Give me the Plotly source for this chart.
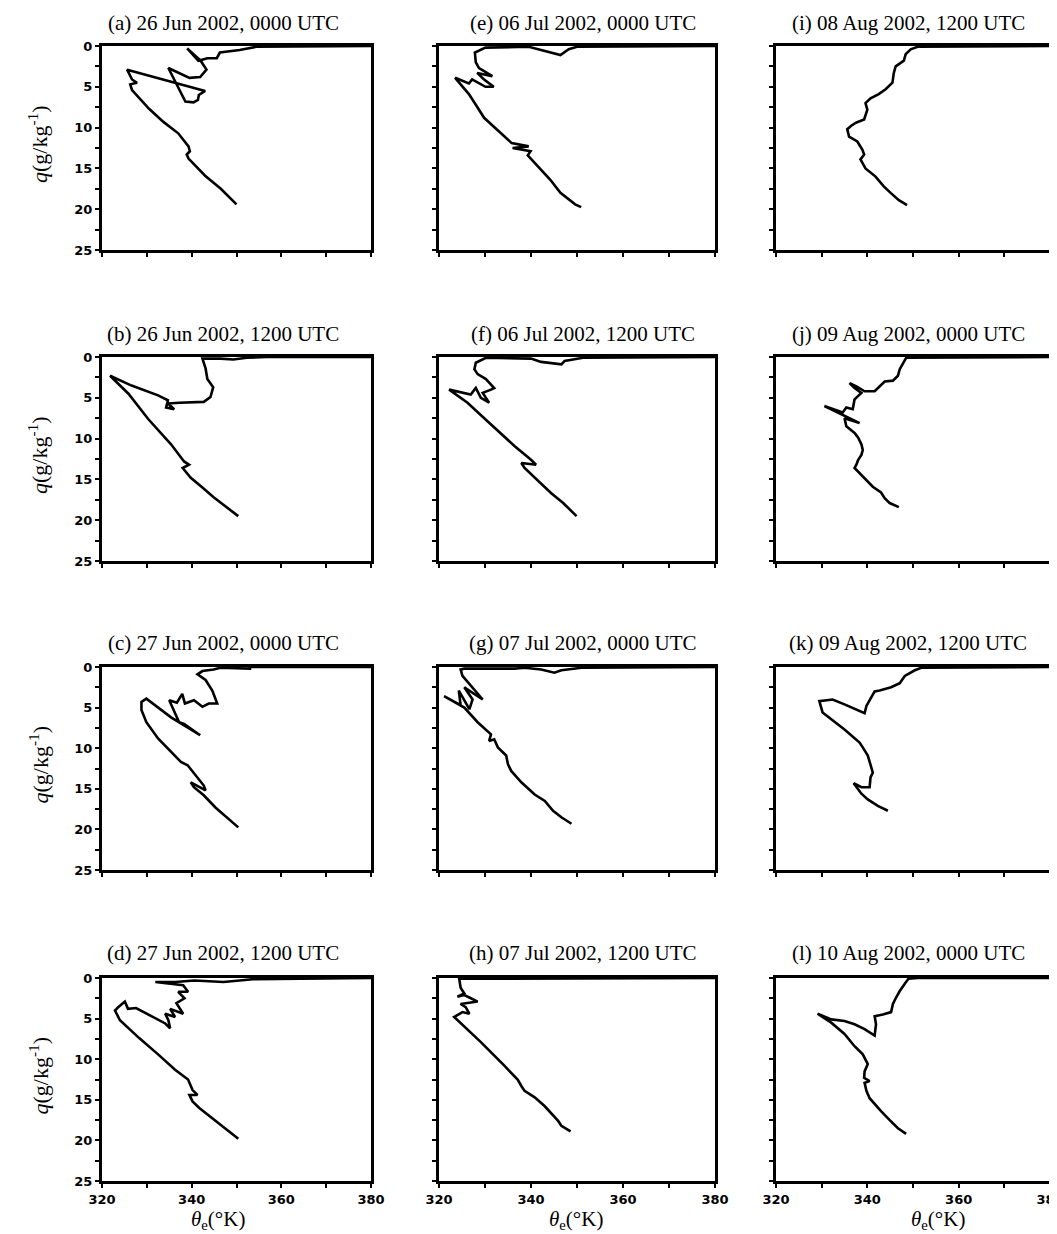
import plotly.graph_objects as go

# ---------------- data: (theta_e [K], q [g/kg]) ----------------
pts_a = [(350.0,19.4),(346.5,17.5),(343.0,15.9),(340.3,14.4),(339.3,13.8),(338.9,13.3),(339.6,12.9),(339.3,12.3),
         (337.0,10.7),(333.7,9.3),(330.5,7.7),(326.7,5.4),(326.3,4.7),(327.8,4.5),(326.7,4.1),(325.6,2.9),
         (343.0,5.5),(341.6,6.0),(341.4,6.6),(340.4,6.9),(338.6,6.8),(334.8,2.7),(337.4,3.4),(339.5,3.9),
         (341.9,3.8),(343.3,2.9),(342.0,1.8),(339.0,0.3),(341.5,1.8),(343.5,1.5),(345.6,1.5),(346.3,0.8),
         (350.7,0.5),(354.4,0.1),(380.0,0.0)]
pts_b = [(350.4,19.5),(347.5,18.3),(344.9,17.2),(342.4,16.0),(339.8,14.8),(338.0,13.6),(339.4,13.2),(338.3,12.8),
         (335.4,10.7),(330.3,7.6),(325.9,4.5),(321.8,2.3),(326.6,3.5),(332.5,4.7),(334.7,5.3),(334.3,6.2),
         (336.1,6.4),(334.7,5.7),(337.2,5.6),(342.7,5.5),(344.2,4.9),(344.8,3.7),(343.5,2.7),(343.1,1.4),
         (342.4,0.2),(346.4,0.2),(349.3,0.3),(352.3,0.1),(356.7,0.0),(380.0,0.0)]
pts_c = [(350.4,19.75),(347.9,18.5),(345.3,17.3),(342.7,15.8),(340.5,14.8),(339.8,14.2),(343.1,15.2),(342.7,14.6),
         (341.3,13.6),(339.1,12.1),(337.6,11.7),(334.7,10.1),(332.5,8.8),(329.9,6.8),(328.8,5.3),(328.8,4.3),
         (329.9,3.9),(335.4,6.2),(341.9,8.4),(338.3,7.0),(337.2,6.8),(335.0,4.1),(336.7,4.4),(337.9,3.3),
         (338.5,4.5),(340.5,4.1),(342.4,4.9),(343.8,4.5),(345.7,4.5),(344.6,2.9),(343.1,1.6),(341.3,0.9),
         (342.4,0.5),(344.9,0.3),(346.4,0.1),(353.0,0.2),(353.0,0.0),(380.0,0.0)]
pts_d = [(350.4,19.8),(346.4,18.1),(343.5,16.8),(341.7,16.0),(340.2,15.2),(339.5,14.4),(341.3,14.4),(340.2,13.8),
         (339.2,12.5),(336.3,11.3),(332.7,9.5),(328.3,7.4),(324.0,5.2),(322.9,4.0),(323.6,3.6),(325.1,2.9),
         (325.8,3.8),(327.6,3.7),(334.1,5.6),(335.2,6.2),(334.8,5.2),(334.1,4.4),(336.3,4.8),(335.2,3.8),
         (338.1,4.4),(336.6,3.1),(338.4,2.5),(337.0,1.7),(339.2,1.7),(338.1,0.9),(331.9,0.5),(336.3,0.5),
         (340.6,0.3),(347.1,0.5),(350.7,0.3),(353.6,0.15),(380.0,0.0)]
pts_e = [(350.9,19.75),(349.6,19.4),(346.4,18.0),(344.2,16.4),(339.3,13.4),(339.9,12.9),(336.0,12.5),(339.5,12.3),
         (335.8,11.9),(329.8,8.8),(328.0,7.2),(326.5,5.9),(323.5,3.9),(326.5,4.6),(327.2,4.1),(330.1,5.0),
         (331.9,5.0),(329.8,4.1),(328.3,3.3),(331.6,3.7),(328.7,2.7),(328.0,2.0),(327.8,0.8),(330.1,0.2),
         (339.5,0.1),(346.4,1.1),(348.2,0.4),(350.0,0.1),(380.0,0.0)]
pts_f = [(349.9,19.5),(348.1,18.5),(347.0,17.9),(344.4,16.7),(341.5,15.2),(338.6,13.6),(337.9,13.0),(341.1,13.2),
         (340.0,12.6),(336.4,10.9),(330.6,7.9),(326.2,5.6),(322.2,4.0),(326.9,4.6),(328.0,3.8),(329.1,5.0),
         (330.9,5.6),(329.5,4.4),(331.3,4.0),(332.0,3.8),(330.2,2.7),(328.4,2.1),(327.7,1.5),(328.0,0.7),
         (330.2,0.1),(340.0,0.2),(342.2,0.6),(346.6,0.9),(347.3,0.5),(351.3,0.1),(380.0,0.0)]
pts_g = [(348.8,19.3),(346.6,18.5),(344.8,17.7),(343.0,16.5),(340.8,15.7),(337.9,14.2),(335.7,12.8),(335.0,12.0),
         (334.6,10.9),(332.8,9.9),(332.0,8.9),(330.9,9.1),(331.3,8.3),(328.4,6.8),(325.5,5.0),(321.1,3.6),
         (324.7,4.7),(324.3,2.9),(326.6,5.2),(327.3,4.0),(325.5,2.5),(329.5,4.0),(326.6,2.1),(325.1,1.1),
         (324.7,0.3),(325.5,0.2),(336.4,0.2),(338.6,0.1),(342.2,0.3),(345.1,0.7),(346.6,0.4),(351.0,0.1),
         (380.0,0.0)]
pts_h = [(348.6,18.9),(346.6,18.2),(345.9,17.6),(345.1,17.1),(343.0,15.8),(340.8,14.7),(338.6,13.9),(337.9,13.3),
         (337.1,12.5),(334.2,10.8),(329.1,7.9),(323.3,4.8),(325.1,4.2),(326.6,4.4),(325.8,3.6),(324.7,3.2),
         (328.4,2.9),(326.6,2.4),(325.5,2.1),(324.0,2.3),(325.5,1.9),(324.7,1.2),(324.4,0.1),(380.0,0.0)]
pts_i = [(348.7,19.5),(346.9,18.9),(345.1,18.0),(343.6,17.2),(341.8,16.0),(339.6,15.0),(338.5,13.9),(339.3,13.3),
         (338.9,12.7),(337.8,11.7),(336.0,11.1),(335.6,10.2),(336.4,9.8),(337.5,9.4),(339.3,9.0),(340.0,7.8),
         (339.6,7.0),(340.7,6.4),(342.5,5.9),(344.0,5.3),(345.5,4.5),(345.8,3.3),(346.2,2.5),(348.0,1.8),
         (348.4,1.0),(349.5,0.4),(351.0,0.1),(380.0,0.0)]
pts_j = [(346.9,18.4),(344.9,17.9),(343.8,17.3),(343.0,16.6),(341.2,15.9),(339.0,14.6),(337.2,13.6),(337.6,13.2),
         (338.0,12.6),(338.7,12.0),(339.0,11.4),(338.7,10.7),(338.0,9.9),(337.2,9.3),(335.4,8.5),(335.0,7.5),
         (338.3,8.1),(330.6,6.0),(334.6,6.8),(335.4,6.2),(336.8,6.4),(337.2,5.2),(338.7,4.4),(337.2,3.8),
         (336.1,3.2),(337.6,3.6),(339.4,4.2),(341.6,4.2),(342.7,3.6),(343.8,3.0),(345.6,2.9),(346.7,2.3),
         (347.1,1.5),(347.8,0.7),(348.5,0.1),(380.0,0.0)]
pts_k = [(344.5,17.7),(342.3,17.1),(340.1,16.3),(338.7,15.6),(337.0,14.3),(338.7,14.8),(340.5,14.8),(340.7,13.6),
         (341.2,13.0),(340.7,12.0),(340.1,10.9),(339.0,9.9),(338.3,9.3),(335.0,7.7),(332.1,6.4),(330.2,5.6),
         (329.5,4.2),(332.4,4.0),(335.0,4.6),(339.4,5.7),(339.8,4.8),(340.8,3.7),(341.6,3.0),(342.7,2.9),
         (345.2,2.5),(347.1,2.0),(348.2,1.1),(350.4,0.4),(351.8,0.1),(380.0,0.0)]
pts_l = [(348.5,19.2),(346.7,18.5),(344.9,17.5),(343.0,16.4),(340.5,14.8),(339.8,13.9),(339.4,12.9),(340.5,12.7),
         (339.3,12.3),(339.4,11.5),(340.1,10.6),(339.0,9.4),(337.2,8.4),(335.0,6.9),(332.1,5.5),(329.1,4.4),
         (332.1,5.1),(335.0,5.3),(337.2,5.7),(339.4,6.3),(341.6,7.1),(341.9,5.7),(341.6,4.7),(343.4,4.5),
         (345.2,4.2),(345.6,3.2),(346.3,2.4),(347.1,1.6),(348.2,0.7),(349.0,0.1),(351.1,0.0),(380.0,0.0)]

panel_titles = ["(a) 26 Jun 2002, 0000 UTC", "(b) 26 Jun 2002, 1200 UTC", "(c) 27 Jun 2002, 0000 UTC",
                "(d) 27 Jun 2002, 1200 UTC", "(e) 06 Jul 2002, 0000 UTC", "(f) 06 Jul 2002, 1200 UTC",
                "(g) 07 Jul 2002, 0000 UTC", "(h) 07 Jul 2002, 1200 UTC", "(i) 08 Aug 2002, 1200 UTC",
                "(j) 09 Aug 2002, 0000 UTC", "(k) 09 Aug 2002, 1200 UTC", "(l) 10 Aug 2002, 0000 UTC"]
panel_data = [pts_a, pts_b, pts_c, pts_d, pts_e, pts_f, pts_g, pts_h, pts_i, pts_j, pts_k, pts_l]

x_tick_vals = [320, 340, 360, 380]
y_tick_vals = [0, 5, 10, 15, 20, 25]

# ---------------- layout geometry (page pixels) ----------------
W, H = 1057, 1234
col_px = [(94, 363), (431, 707), (768, 1042)]
row_px = [(38, 242), (349, 553), (659, 862), (970, 1173)]
title_cx = [215, 575, 900]
title_cy = [15, 326, 635, 945]
xtitle_cx = [210, 568, 930]


def px_x(v):
    return v / W


def px_y(v):
    return 1 - v / H


fig = go.Figure()
layout = dict(width=W, height=H, margin=dict(l=0, r=0, t=0, b=0, autoexpand=False),
              plot_bgcolor="white", paper_bgcolor="white", showlegend=False, template="none")
annotations = []

for idx, pts in enumerate(panel_data):
    col, row = idx // 4, idx % 4
    k = idx + 1
    xs = [p[0] for p in pts]
    ys = [p[1] for p in pts]
    xa = "x" if k == 1 else f"x{k}"
    ya = "y" if k == 1 else f"y{k}"
    fig.add_trace(go.Scatter(x=xs, y=ys, mode="lines", xaxis=xa, yaxis=ya,
                             line=dict(color="black", width=2.6), hoverinfo="skip"))
    x0, x1 = col_px[col]
    y0, y1 = row_px[row]
    tick_font = dict(family="DejaVu Sans", size=13, color="black", weight="bold")
    layout["xaxis" if k == 1 else f"xaxis{k}"] = dict(
        domain=[px_x(x0), px_x(x1)], range=[320, 380], anchor=ya, automargin=False,
        showline=True, linewidth=3, linecolor="black", mirror=True,
        ticks="outside", ticklen=4, tickwidth=2, tickcolor="black",
        tickvals=x_tick_vals, showgrid=False, zeroline=False,
        minor=dict(dtick=10, tick0=320, ticks="outside", ticklen=4, tickwidth=2, tickcolor="black", showgrid=False),
        showticklabels=(row == 3), tickfont=tick_font)
    layout["yaxis" if k == 1 else f"yaxis{k}"] = dict(
        domain=[px_y(y1), px_y(y0)], range=[25, 0], anchor=xa, automargin=False,
        showline=True, linewidth=3, linecolor="black", mirror=True,
        ticks="outside", ticklen=4, tickwidth=2, tickcolor="black",
        tickvals=y_tick_vals, showgrid=False, zeroline=False,
        minor=dict(dtick=2.5, tick0=0, ticks="outside", ticklen=4, tickwidth=2, tickcolor="black", showgrid=False),
        showticklabels=(col == 0), tickfont=tick_font)
    annotations.append(dict(text=panel_titles[idx], x=px_x(title_cx[col]), y=px_y(title_cy[row]),
                            xref="paper", yref="paper", xanchor="center", yanchor="middle",
                            showarrow=False, font=dict(family="Liberation Serif", size=21, color="black")))

for row in range(4):
    cy = (row_px[row][0] + row_px[row][1]) / 2 - 4
    annotations.append(dict(text="<i>q</i>(g/kg<sup>-1</sup>)", x=px_x(30), y=px_y(cy),
                            xref="paper", yref="paper", xanchor="center", yanchor="middle",
                            textangle=-90, showarrow=False,
                            font=dict(family="Liberation Serif", size=22, color="black")))
for col in range(3):
    annotations.append(dict(text="<i>θ</i><sub>e</sub>(°K)", x=px_x(xtitle_cx[col]), y=px_y(1212),
                            xref="paper", yref="paper", xanchor="center", yanchor="middle",
                            showarrow=False, font=dict(family="Liberation Serif", size=21, color="black")))

layout["annotations"] = annotations
fig.update_layout(**layout)
fig.write_html("out.html")
